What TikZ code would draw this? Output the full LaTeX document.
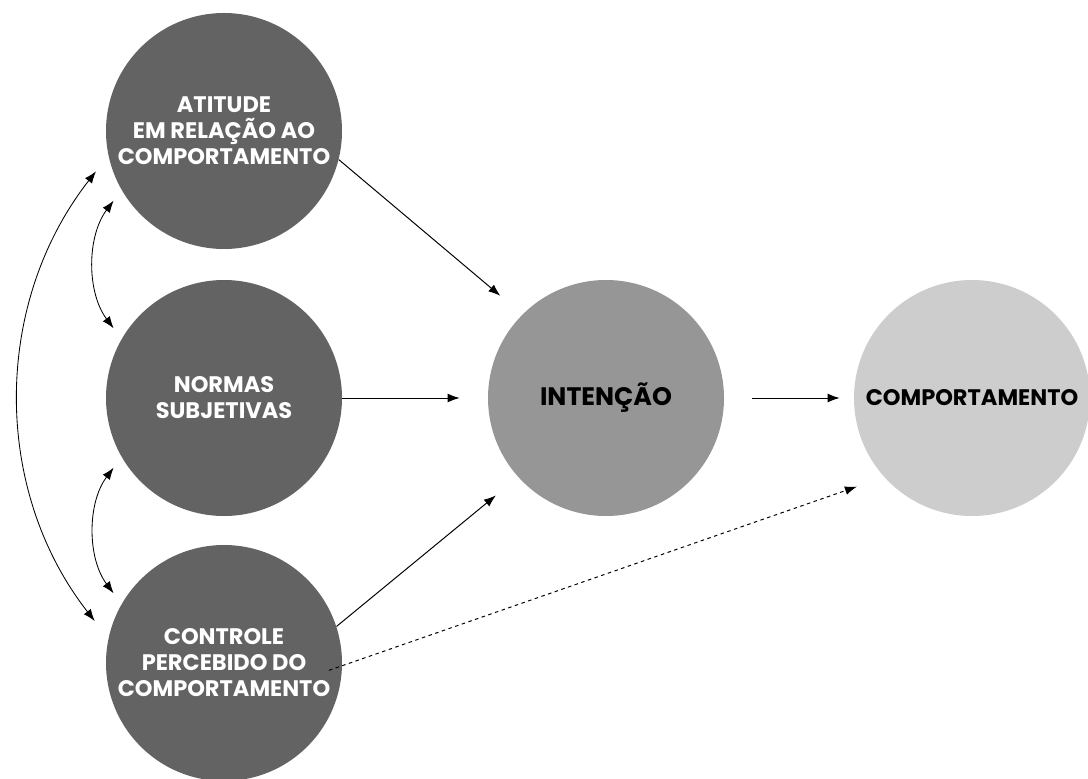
\documentclass[tikz,border=0pt]{standalone}
\usepackage{fontspec}
\setmainfont{Poppins}
\usetikzlibrary{arrows.meta}
\definecolor{darkbubble}{RGB}{99,99,99}
\definecolor{midbubble}{RGB}{150,150,150}
\definecolor{lightbubble}{RGB}{205,205,205}

\begin{document}
\begin{tikzpicture}[
  bubble/.style={circle, minimum size=5.9cm, inner sep=0pt, align=center, font=\fontsize{16}{18.5}\selectfont\bfseries},
  factor/.style={bubble, fill=darkbubble, text=white},
  link/.style={-{Latex[length=3mm,width=2.2mm]}, line width=0.7pt},
  both/.style={{Latex[length=3mm,width=2.2mm]}-{Latex[length=3mm,width=2.2mm]}, line width=0.6pt}
]
  \useasboundingbox (0,0) rectangle (27.2,19.45);

  % Draw the three bubbles on the left
  \node[factor] (atitude) at (5.6,16.175) {ATITUDE\\EM RELAÇÃO AO\\COMPORTAMENTO};
  \node[factor] (normas) at (5.6,9.5) {NORMAS\\SUBJETIVAS};
  \node[factor] (controle) at (5.6,2.875) {CONTROLE\\PERCEBIDO DO\\COMPORTAMENTO};

  % Draw the intention and the behaviour bubbles
  \node[bubble, fill=midbubble, font=\fontsize{18}{20}\selectfont\bfseries] (intencao) at (15.15,9.5) {INTENÇÃO};
  \node[bubble, fill=lightbubble] (comportamento) at (24.3,9.5) {COMPORTAMENTO};

  % Draw arrows going into the intention
  \draw[link, shorten >=0.72cm] (atitude.-14) -- (intencao.135);
  \draw[link, shorten >=0.7cm] (normas) -- (intencao);
  \draw[link, shorten >=0.72cm] (controle.18) -- (intencao.222);

  % Draw arrows going into the behaviour
  \draw[link, shorten <=0.7cm, shorten >=0.35cm] (intencao) -- (comportamento);
  \coordinate (dotstart) at ([shift={(-4:2.63)}]controle.center);
  \draw[link, dash pattern=on 2.5pt off 2.5pt, shorten >=0.72cm] (dotstart) -- (comportamento.222);

  % Draw the curved arrows between the left bubbles
  \draw[both, shorten <=0.33cm, shorten >=0.33cm] (atitude.210) to[bend right=37] (normas.150);
  \draw[both, shorten <=0.33cm, shorten >=0.33cm] (normas.210) to[bend right=37] (controle.150);
  \draw[both, shorten <=0.5cm, shorten >=0.55cm] (atitude.192) to[bend right=38] (controle.168);

\end{tikzpicture}
\end{document}
